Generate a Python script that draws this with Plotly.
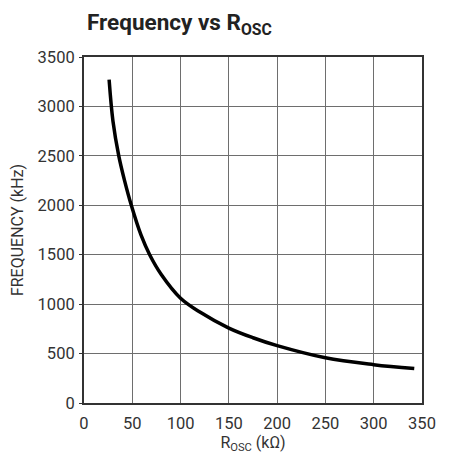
import plotly.graph_objects as go

r_osc = [26, 30, 36, 42, 49, 59, 68, 80, 100, 120, 150, 175, 200, 250, 300, 342]
freq = [3270, 2850, 2500, 2250, 2000, 1700, 1500, 1300, 1060, 920, 758, 660, 580, 457, 388, 348]
x_ticks = [0, 50, 100, 150, 200, 250, 300, 350]
y_ticks = [0, 500, 1000, 1500, 2000, 2500, 3000, 3500]

FONT = "Roboto, Liberation Sans, sans-serif"

# the page body has an 8px default margin, so the figure is sized to fit the 449x461 window
W, H = 441, 453

fig = go.Figure()
fig.add_trace(go.Scatter(x=r_osc, y=freq, mode="lines",
                         line=dict(color="black", width=3.5, shape="spline", smoothing=1.0),
                         hoverinfo="skip", showlegend=False))

fig.update_layout(
    width=W, height=H,
    margin=dict(l=76, r=27, t=49, b=58, autoexpand=False),
    paper_bgcolor="white", plot_bgcolor="white",
    font=dict(family=FONT, size=16.5, color="#333333"),
    title=dict(text="<b>Frequency vs R<sub>OSC</sub></b>", x=79 / W, xref="container", xanchor="left",
               y=1 - 14 / H, yref="container", yanchor="middle",
               font=dict(family=FONT, size=22.5, color="#222222")),
    xaxis=dict(range=[0, 350], tickvals=x_ticks, showgrid=True, gridcolor="#6e6e6e", gridwidth=1,
               showline=True, linecolor="#333333", linewidth=2, mirror=True, automargin=False,
               ticks="", ticklabelstandoff=4, zeroline=False,
               title=dict(text="R<sub>OSC</sub> (kΩ)", standoff=4, font=dict(size=16))),
    yaxis=dict(range=[0, 3500], tickvals=y_ticks, showgrid=True, gridcolor="#6e6e6e", gridwidth=1,
               showline=True, linecolor="#333333", linewidth=2, mirror=True, automargin=False,
               ticks="outside", ticklen=3, tickcolor="#333333", ticklabelstandoff=1, zeroline=False,
               title=dict(text="FREQUENCY (kHz)", standoff=17, font=dict(size=16))),
)

fig.write_html("out.html")
